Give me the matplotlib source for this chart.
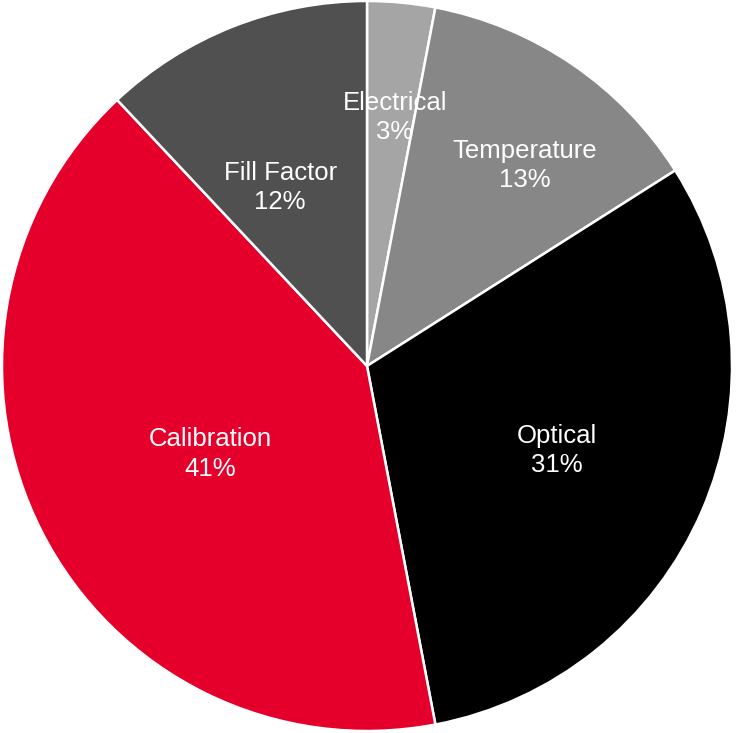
import matplotlib.pyplot as plt
import numpy as np

labels = ['Electrical', 'Temperature', 'Optical', 'Calibration', 'Fill Factor']
values = [3, 13, 31, 41, 12]
colors = ['#a5a5a5', '#878787', '#000000', '#e4002b', '#505050']
# label placement: fraction of radius, and clockwise nudge in degrees
label_r = [0.684, 0.70, 0.57, 0.493, 0.543]
label_shift = [1.0, 4.0, 0.5, -2.3, -4.4]

fig = plt.figure(figsize=(7.36, 7.33), dpi=100)
ax = fig.add_axes([0, 0, 1, 1])

wedges, _ = ax.pie(values, colors=colors, startangle=90, counterclock=False,
                   wedgeprops=dict(edgecolor='white', linewidth=1.8))

for w, lab, v, r, s in zip(wedges, labels, values, label_r, label_shift):
    ang = np.deg2rad((w.theta1 + w.theta2) / 2 - s)
    ax.text(r * np.cos(ang), r * np.sin(ang), f'{lab}\n{v}%',
            ha='center', va='center', color='white', fontsize=18.5,
            family='Liberation Sans', linespacing=1.27)

rad = 365
ax.set_xlim(-367 / rad, (736 - 367) / rad)
ax.set_ylim(-367 / rad, 366 / rad)
ax.set_aspect('auto')
ax.axis('off')

fig.savefig('out.png', dpi=100)
